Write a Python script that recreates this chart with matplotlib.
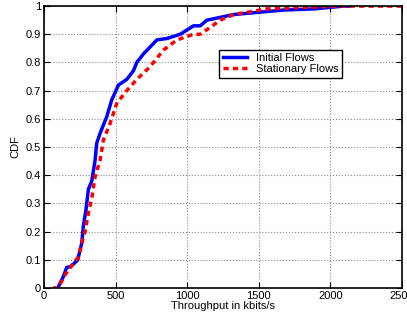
import numpy as np
import matplotlib
matplotlib.use('Agg')
import matplotlib.pyplot as plt

# throughput (kbits/s) and CDF
init_x = [96, 135, 159, 180, 196, 236, 264, 275, 294, 310, 334, 357, 368, 392, 438, 473,
          520, 578, 624, 648, 694, 788, 858, 951, 1044, 1091, 1137, 1324, 1673, 1883, 2093, 2130]
init_y = [0, 0.04, 0.073, 0.075, 0.08, 0.1, 0.16, 0.22, 0.28, 0.35, 0.38, 0.454, 0.513, 0.549, 0.607, 0.667,
          0.72, 0.74, 0.77, 0.80, 0.83, 0.88, 0.885, 0.90, 0.93, 0.93, 0.95, 0.97, 0.986, 0.99, 1.0, 1.0]

stat_x = [63, 98, 147, 194, 240, 264, 287, 310, 334, 357, 392, 415, 462, 508, 578, 648,
          741, 834, 928, 1044, 1091, 1231, 1324, 1557, 1790, 2091, 2500]
stat_y = [0, 0, 0.046, 0.08, 0.11, 0.16, 0.2, 0.265, 0.32, 0.395, 0.454, 0.525, 0.584, 0.655, 0.70, 0.74,
          0.785, 0.844, 0.88, 0.90, 0.90, 0.95, 0.97, 0.99, 0.995, 1.0, 1.0]

x_ticks = [0, 500, 1000, 1500, 2000, 2500]
y_ticks = [0, 0.1, 0.2, 0.3, 0.4, 0.5, 0.6, 0.7, 0.8, 0.9, 1]

plt.rcParams['font.family'] = ['Liberation Sans', 'DejaVu Sans']
plt.rcParams['font.size'] = 8

fig = plt.figure(figsize=(4.07, 3.2), dpi=100)
ax = fig.add_axes([0.108, 0.1, 0.88, 0.881])

ax.plot(init_x, init_y, color='#0000ff', lw=2.5, label='Initial Flows')
ax.plot(stat_x, stat_y, color='#ff0000', lw=2.5, ls=(0, (1.5, 1.2)), label='Stationary Flows')

ax.set_xlim(0, 2500)
ax.set_ylim(0, 1)
ax.set_xticks(x_ticks)
ax.set_yticks(y_ticks)
ax.set_yticklabels(['0', '0.1', '0.2', '0.3', '0.4', '0.5', '0.6', '0.7', '0.8', '0.9', '1'])
ax.grid(True, ls=':', color='#888888', lw=0.8)
ax.tick_params(direction='in', top=True, right=True, length=4, pad=2)
for s in ax.spines.values():
    s.set_linewidth(1.2)

ax.set_xlabel('Throughput in kbits/s', labelpad=0)
ax.set_ylabel('CDF', labelpad=4)

leg = ax.legend(loc='upper left', bbox_to_anchor=(0.49, 0.845), fancybox=False,
                edgecolor='black', framealpha=1, borderpad=0.3, labelspacing=0.1,
                handlelength=2.2, borderaxespad=0)
leg.get_frame().set_linewidth(1.0)

fig.savefig('out.png', dpi=100)
